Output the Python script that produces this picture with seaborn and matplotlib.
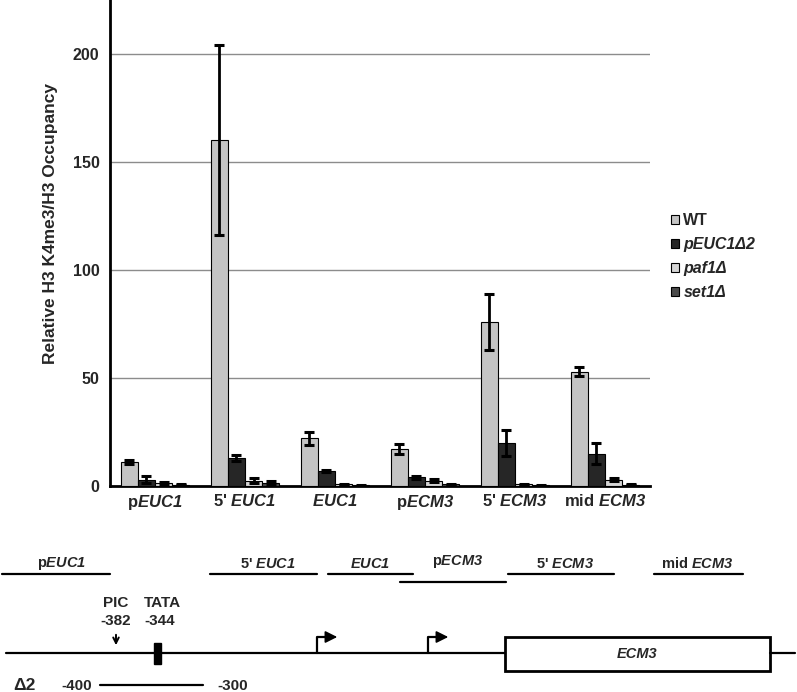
import matplotlib
matplotlib.use("Agg")
import pandas as pd
import seaborn as sns
from matplotlib import pyplot as plt
from matplotlib.patches import Rectangle

regions = ["pEUC1", "5' EUC1", "EUC1", "pECM3", "5' ECM3", "mid ECM3"]
region_labels = [r"p$\mathit{EUC1}$", r"5' $\mathit{EUC1}$", r"$\mathit{EUC1}$",
                 r"p$\mathit{ECM3}$", r"5' $\mathit{ECM3}$", r"mid $\mathit{ECM3}$"]
strains = ["WT", "pEUC1Δ2", "paf1Δ", "set1Δ"]
colors = ["#c4c4c4", "#262626", "#d6d6d6", "#4a4a4a"]

wt = [11, 160, 22, 17, 76, 53]
wt_err = [1, 44, 3, 2.3, 13, 2]
peuc1d2 = [3, 13, 7, 4, 20, 15]
peuc1d2_err = [1.5, 1.3, 0.5, 0.8, 6, 5]
paf1 = [1.2, 2.5, 0.8, 2.5, 0.8, 3]
paf1_err = [0.5, 1, 0.3, 0.8, 0.3, 0.8]
set1 = [0.6, 1.5, 0.3, 0.8, 0.4, 0.5]
set1_err = [0.3, 1, 0.2, 0.3, 0.2, 0.2]

# schematic of the locus (figure pixel coords)
probe_start = [2, 210, 328, 400, 508, 654]
probe_end = [110, 317, 413, 506, 614, 743]
probe_y = [574, 574, 574, 582, 574, 574]
probe_label_x = [62, 268, 370, 458, 565, 697]
tss_x = [317, 428]
ecm3_box = (505, 770)

values = [wt, peuc1d2, paf1, set1]
errors = [wt_err, peuc1d2_err, paf1_err, set1_err]
df = pd.DataFrame({
    "region": [r for s in strains for r in regions],
    "strain": [s for s in strains for r in regions],
    "value": [v for vals in values for v in vals],
})

sns.set_style("white")
plt.rcParams["font.family"] = ["Liberation Sans", "DejaVu Sans"]
plt.rcParams["font.weight"] = "bold"
# gene names inside $...$ come out bold italic, digits included
plt.rcParams["mathtext.fontset"] = "custom"
plt.rcParams["mathtext.it"] = "Liberation Sans:italic:bold"
plt.rcParams["mathtext.rm"] = "Liberation Sans:italic:bold"
plt.rcParams["mathtext.bf"] = "Liberation Sans:italic:bold"

fig = plt.figure(figsize=(7.97, 6.92), dpi=100)

# schematic axes in pixel coordinates
sk = fig.add_axes([0, 0, 1, 1], zorder=0)
sk.set_xlim(0, 797)
sk.set_ylim(692, 0)
sk.axis("off")

ax = fig.add_axes([110 / 797, 1 - 486 / 692, 540 / 797, 486 / 692], zorder=1)
ax.patch.set_alpha(0)

sns.barplot(data=df, x="region", y="value", hue="strain", palette=colors,
            edgecolor="black", linewidth=0.8, width=0.76, gap=0,
            errorbar=None, ax=ax, zorder=3)

for cont, err in zip(ax.containers, errors):
    xs = [b.get_x() + b.get_width() / 2 for b in cont]
    ys = [b.get_height() for b in cont]
    ax.errorbar(xs, ys, yerr=err, fmt="none", ecolor="black",
                elinewidth=2, capsize=3.5, capthick=2.2, zorder=4)

ax.set_ylim(0, 225)
ax.set_xlim(-0.5, 5.5)
ax.set_yticks([0, 50, 100, 150, 200])
for yv in [50, 100, 150, 200]:
    ax.axhline(yv, color="#8c8c8c", lw=1, zorder=1)
ax.set_xticks(range(6))
ax.set_xticklabels(region_labels, fontsize=12, fontweight="bold")
ax.set_xticks([i + 0.5 for i in range(-1, 6)], minor=True)
ax.tick_params(axis="x", which="major", length=0, pad=5)
ax.tick_params(axis="x", which="minor", length=4, width=2, direction="out")
ax.tick_params(axis="y", length=4, width=2, direction="out", labelsize=11.5)
for lbl in ax.get_yticklabels():
    lbl.set_fontweight("bold")
ax.set_xlabel("")
ax.set_ylabel("Relative H3 K4me3/H3 Occupancy", fontsize=12.5,
              fontweight="bold")
ax.yaxis.set_label_coords(-0.096, 0.54)
for side in ["top", "right"]:
    ax.spines[side].set_visible(False)
for side in ["left", "bottom"]:
    ax.spines[side].set_linewidth(2)
    ax.spines[side].set_color("black")

handles, labels = ax.get_legend_handles_labels()
ax.get_legend().remove()
leg = fig.legend(handles, labels, loc="upper left",
                 bbox_to_anchor=(657 / 797, 1 - 199 / 692), frameon=False,
                 fontsize=11.5, handlelength=0.5, handleheight=0.5,
                 handletextpad=0.25, labelspacing=0.55)
for i, t in enumerate(leg.get_texts()):
    t.set_fontweight("bold")
    if i > 0:
        t.set_fontstyle("italic")

# probes
for x0, x1, y, lx, lab in zip(probe_start, probe_end, probe_y,
                              probe_label_x, region_labels):
    sk.plot([x0, x1], [y, y], color="black", lw=1.6)
    sk.text(lx, 564 if y == 574 else 562, lab, ha="center", va="center",
            fontsize=10.5, fontweight="bold")

# locus line and ECM3 ORF
sk.plot([6, ecm3_box[0]], [653, 653], color="black", lw=1.6)
sk.plot([ecm3_box[1], 795], [653, 653], color="black", lw=1.6)
sk.add_patch(Rectangle((ecm3_box[0], 637), ecm3_box[1] - ecm3_box[0], 34,
                       facecolor="white", edgecolor="black", lw=2))
sk.text(sum(ecm3_box) / 2, 654, "ECM3", ha="center", va="center",
        fontsize=10.5, fontweight="bold", fontstyle="italic")

# transcription start sites
for tx in tss_x:
    sk.plot([tx, tx, tx + 13], [653, 637, 637], color="black", lw=1.6)
    sk.annotate("", xy=(tx + 23, 637), xytext=(tx + 10, 637),
                arrowprops=dict(arrowstyle="-|>", color="black", lw=1.2,
                                mutation_scale=18))

# TATA box and PIC
sk.add_patch(Rectangle((154, 643), 7, 21, facecolor="black", edgecolor="black"))
sk.annotate("", xy=(116, 648), xytext=(116, 632),
            arrowprops=dict(arrowstyle="->", color="black", lw=1.4,
                            mutation_scale=10))
sk.text(116, 603, "PIC", ha="center", va="center", fontsize=11, fontweight="bold")
sk.text(116, 621, "-382", ha="center", va="center", fontsize=11, fontweight="bold")
sk.text(162, 603, "TATA", ha="center", va="center", fontsize=11, fontweight="bold")
sk.text(160, 621, "-344", ha="center", va="center", fontsize=11, fontweight="bold")

# deletion
sk.text(24, 686, "Δ2", ha="center", va="center", fontsize=12.5, fontweight="bold")
sk.text(77, 686, "-400", ha="center", va="center", fontsize=11, fontweight="bold")
sk.plot([100, 203], [685, 685], color="black", lw=1.6)
sk.text(233, 686, "-300", ha="center", va="center", fontsize=11, fontweight="bold")

fig.savefig("out.png", dpi=100)
